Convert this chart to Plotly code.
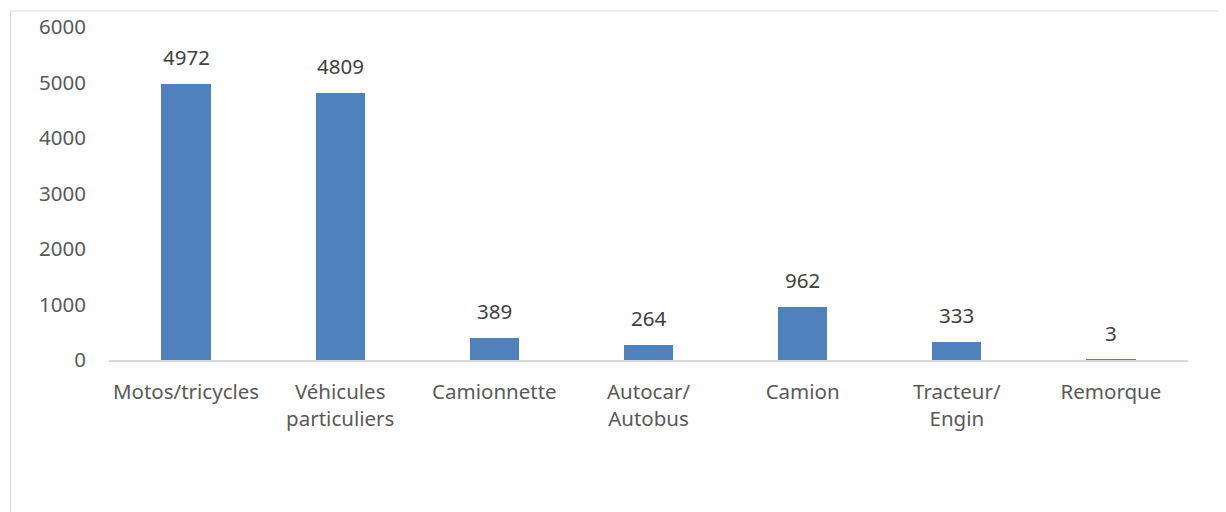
import plotly.graph_objects as go

categories = ["Motos/tricycles", "Véhicules<br>particuliers", "Camionnette", "Autocar/<br>Autobus", "Camion", "Tracteur/<br>Engin", "Remorque"]
values = [4972, 4809, 389, 264, 962, 333, 3]
y_ticks = [0, 1000, 2000, 3000, 4000, 5000, 6000]

FONT = "Noto Sans"
FS = 20.5
fig = go.Figure()
fig.add_trace(go.Bar(x=categories, y=values, marker_color="#4f81bd", width=0.32,
                     marker_line_width=0, showlegend=False))
for c, v in zip(categories, values):
    fig.add_annotation(x=c, y=v, text=str(v), showarrow=False, yanchor="bottom",
                       yshift=11, font=dict(family=FONT, size=FS, color="#404040"))

# page offset of 8px (body margin) accounted for
W, H = 1218, 504
L, R, T, B = 101, 38, 19, 152
pw, ph = W - L - R, H - T - B
bx, by = 10.5 - 8, 11 - 8
fig.add_shape(type="line", xref="paper", yref="paper",
              x0=(bx - L) / pw, x1=(W + 5 - L) / pw, y0=1 + (T - by) / ph, y1=1 + (T - by) / ph,
              line=dict(color="#d9d9d9", width=1))
fig.add_shape(type="line", xref="paper", yref="paper",
              x0=(bx - L) / pw, x1=(bx - L) / pw, y0=1 + (T - by) / ph, y1=-(B + 5) / ph,
              line=dict(color="#d9d9d9", width=1))

fig.update_layout(
    width=W, height=H, margin=dict(l=L, r=R, t=T, b=B, autoexpand=False),
    plot_bgcolor="white", paper_bgcolor="white", bargap=0,
    font=dict(family=FONT, size=FS, color="#595959"),
    xaxis=dict(showline=True, linecolor="#d9d9d9", linewidth=1.5, ticks="", showgrid=False,
               tickfont=dict(family=FONT, size=FS, color="#595959"), ticklabelstandoff=13),
    yaxis=dict(range=[0, 6000], tickvals=y_ticks, showgrid=False, zeroline=False, showline=False,
               tickfont=dict(family=FONT, size=FS, color="#595959"), ticklabelstandoff=22),
)
fig.write_html("out.html")
